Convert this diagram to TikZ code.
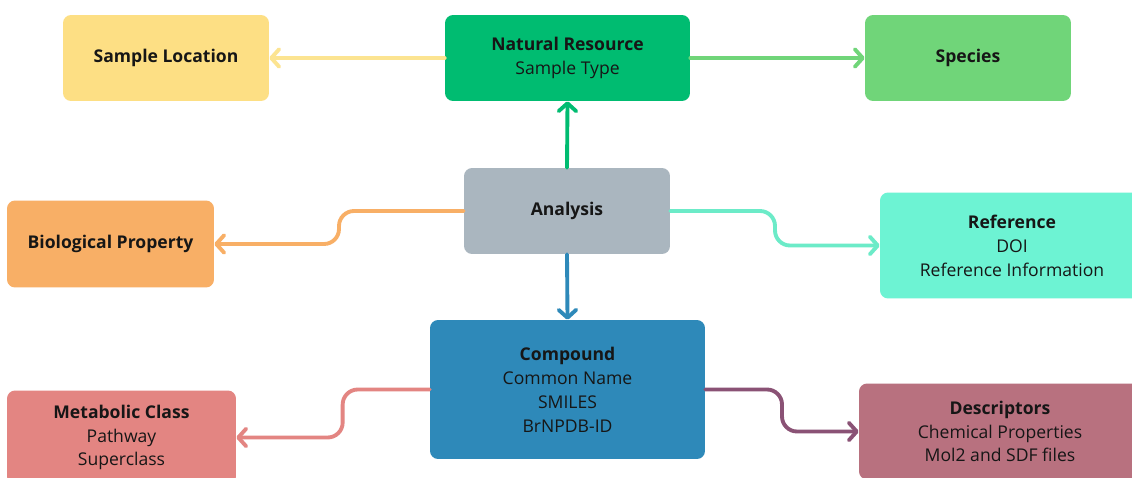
\documentclass[tikz,border=0pt]{standalone}
\usepackage{fontspec}
\setmainfont{Open Sans}
\usetikzlibrary{arrows.meta,calc}
\definecolor{inktext}{HTML}{161616}
\definecolor{locfill}{HTML}{FDDF84}
\definecolor{locline}{HTML}{FCE491}
\definecolor{natfill}{HTML}{00BC71}
\definecolor{specfill}{HTML}{70D579}
\definecolor{anafill}{HTML}{AAB6BF}
\definecolor{biofill}{HTML}{F8AF66}
\definecolor{reffill}{HTML}{6DF3D3}
\definecolor{refline}{HTML}{6CEBC8}
\definecolor{compfill}{HTML}{2E89B9}
\definecolor{metafill}{HTML}{E38582}
\definecolor{descfill}{HTML}{B8717F}
\definecolor{descline}{HTML}{8A5275}
\begin{document}
\begin{tikzpicture}[x=0.02cm,y=-0.02cm,
	box/.style={rounded corners=0.16cm,inner sep=0pt,align=center,text=inktext,
		font=\fontsize{10}{13.6}\selectfont},
	link/.style={line width=2.2pt,rounded corners=0.3cm,line cap=round,
		-{Straight Barb[length=4.5pt,width=10pt,line cap=round,line join=round]}},
	elbow/.style={to path={let \p1=(\tikztostart),\p2=(\tikztotarget) in
		-- ({\x1+#1*(\x2-\x1)},\y1) -- ({\x1+#1*(\x2-\x1)},\y2) -- (\tikztotarget)}},
	elbow/.default=0.5]
		\useasboundingbox (0,0) rectangle (1132,477);
		\clip (0,0) rectangle (1132,477);
		\fill[white] (0,0) rectangle (1132,477);
		\node[box,fill=locfill,minimum width=4.12cm,minimum height=1.72cm] (loc) at (166,58) {\bfseries Sample Location};
		\node[box,fill=natfill,minimum width=4.9cm,minimum height=1.72cm] (nat) at (567.5,58) {{\bfseries Natural Resource}\\Sample Type};
		\node[box,fill=specfill,minimum width=4.12cm,minimum height=1.72cm] (spec) at (968,58) {\bfseries Species};
		\node[box,fill=anafill,minimum width=4.12cm,minimum height=1.72cm] (ana) at (567,211) {\bfseries Analysis};
		\node[box,fill=biofill,minimum width=4.14cm,minimum height=1.74cm] (bio) at (110.5,244) {\bfseries Biological Property};
		\node[box,fill=reffill,minimum width=5.28cm,minimum height=2.12cm] (ref) at (1012,245.5) {{\bfseries Reference}\\DOI\\Reference Information};
		\node[box,fill=compfill,minimum width=5.5cm,minimum height=2.78cm] (comp) at (567.5,389.5) {{\bfseries Compound}\\Common Name\\SMILES\\BrNPDB-ID};
		\node[box,fill=metafill,minimum width=4.58cm,minimum height=1.88cm] (meta) at (121.5,437.5) {{\bfseries Metabolic Class}\\Pathway\\Superclass};
		\node[box,fill=descfill,minimum width=5.64cm,minimum height=1.92cm] (desc) at (1000,431.5) {{\bfseries Descriptors}\\Chemical Properties\\Mol2 and SDF files};
		\draw[link,locline] (nat.west) -- (loc.east);
		\draw[link,specfill] (nat.east) -- (spec.west);
		\draw[link,natfill] (ana.north) -- (nat.south);
		\draw[link,compfill] (ana.south) -- (comp.north);
		\draw[link,biofill] (ana.west) to[elbow] (bio.east);
		\draw[link,refline] (ana.east) to[elbow] (ref.west);
		\draw[link,metafill] (comp.west) to[elbow=0.45] (meta.east);
		\draw[link,descline] (comp.east) to[elbow] (desc.west);
	\end{tikzpicture}
\end{document}
